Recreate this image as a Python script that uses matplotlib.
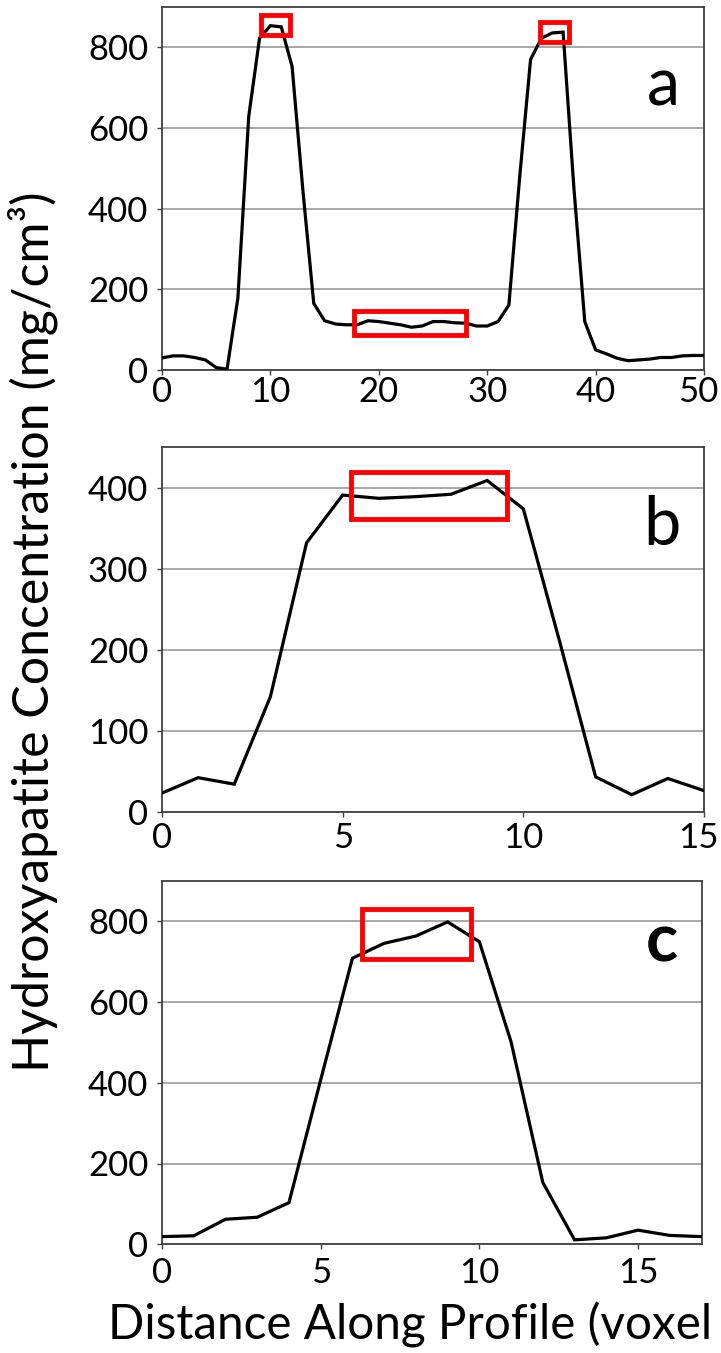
import matplotlib
matplotlib.use("Agg")
import matplotlib.pyplot as plt
from matplotlib.patches import Rectangle
from matplotlib.transforms import ScaledTranslation
import numpy as np

plt.rcParams['font.family'] = ['Lato', 'DejaVu Sans']

# ---- data ----
a_x = list(range(0, 51))
a_y = [30, 35, 35, 31, 25, 6, 2, 178, 628, 822,
       853, 850, 752, 444, 165, 122, 114, 112, 112, 122,
       120, 116, 112, 106, 109, 120, 120, 117, 116, 109,
       109, 120, 161, 479, 769, 822, 835, 837, 450, 120,
       50, 40, 29, 23, 25, 27, 31, 31, 35, 36,
       36]
b_x = list(range(0, 16))
b_y = [23, 42, 34, 142, 332, 391, 387, 389, 392, 409, 374, 211, 43, 21, 41, 26]
c_x = list(range(0, 18))
c_y = [19, 21, 62, 67, 103, 407, 708, 745, 763, 798, 749, 501, 153, 11, 16, 35, 22, 19]

a_xticks = [0, 10, 20, 30, 40, 50]
a_yticks = [0, 200, 400, 600, 800]
b_xticks = [0, 5, 10, 15]
b_yticks = [0, 100, 200, 300, 400]
c_xticks = [0, 5, 10, 15]
c_yticks = [0, 200, 400, 600, 800]

# highlight boxes: (x0, x1, y0, y1) in data units
a_boxes = [(9.1, 11.8, 831, 880), (34.83, 37.5, 813, 863), (17.7, 28.0, 87, 147)]
b_boxes = [(5.23, 9.56, 362, 420)]
c_boxes = [(6.30, 9.73, 705, 829)]

panel_labels = ['a', 'b', 'c']
y_label = 'Hydroxyapatite Concentration (mg/cm\u00b3)'
x_label = 'Distance Along Profile (voxel'

W, H = 721, 1353
fig = plt.figure(figsize=(W / 100, H / 100), dpi=100)

def px_axes(left, right, top, bottom):
    return fig.add_axes([left / W, 1 - bottom / H, (right - left) / W, (bottom - top) / H])

axA = px_axes(162, 704, 6.7, 370)
axB = px_axes(162, 704, 447.3, 811.7)
axC = px_axes(162, 701.5, 880.7, 1244.3)

spine_c = '#404040'
grid_c = '#8f8f8f'

def style(ax, xs, ys, xt, yt, xlim, ylim, boxes, xpad, shift_last):
    ax.plot(xs, ys, color='black', lw=2.3, solid_joinstyle='miter', zorder=3)
    ax.set_xlim(*xlim)
    ax.set_ylim(*ylim)
    ax.set_xticks(xt)
    ax.set_yticks(yt)
    ax.grid(axis='y', color=grid_c, lw=1.1, zorder=0)
    ax.set_axisbelow(True)
    for s in ax.spines.values():
        s.set_color(spine_c)
        s.set_linewidth(1.3)
    ax.tick_params(axis='both', direction='out', length=3.8, width=1.0,
                   color=spine_c, labelsize=25, labelcolor='black')
    ax.tick_params(axis='x', pad=xpad)
    ax.tick_params(axis='y', pad=6)
    if shift_last:
        lab = ax.get_xticklabels()[-1]
        lab.set_transform(lab.get_transform() + ScaledTranslation(-6 / 100, 0, fig.dpi_scale_trans))
    for (x0, x1, y0, y1) in boxes:
        ax.add_patch(Rectangle((x0, y0), x1 - x0, y1 - y0, fill=False,
                               edgecolor='#ff0000', lw=3.5, joinstyle='miter', zorder=4,
                               clip_on=False))

style(axA, a_x, a_y, a_xticks, a_yticks, (0, 50), (0, 900), a_boxes, 0.3, True)
style(axB, b_x, b_y, b_xticks, b_yticks, (0, 15), (0, 450), b_boxes, 3.5, True)
style(axC, c_x, c_y, c_xticks, c_yticks, (0, 17), (0, 900), c_boxes, 5.5, False)

# panel letters (pixel positions)
fig.text(663 / W, 1 - 106 / H, panel_labels[0], fontsize=48, ha='center', va='baseline')
fig.text(662 / W, 1 - 545 / H, panel_labels[1], fontsize=48, ha='center', va='baseline')
fig.text(662 / W, 1 - 962 / H, panel_labels[2], fontsize=48, ha='center', va='baseline',
         fontweight='bold')

fig.text(33 / W, 1 - 632 / H, y_label,
         rotation=90, fontsize=36, ha='center', va='center')
fig.text(108 / W, 1 - 1340 / H, x_label,
         fontsize=34.3, ha='left', va='baseline')

fig.savefig('out.png', dpi=100)
